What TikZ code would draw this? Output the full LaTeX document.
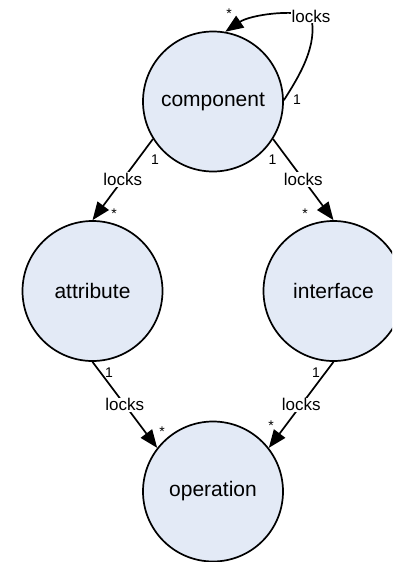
\documentclass[tikz,border=0pt]{standalone}
\usepackage{fontspec}
\setmainfont{Liberation Sans}
\usetikzlibrary{arrows.meta}
\definecolor{classfill}{RGB}{227,234,246}
\begin{document}
\begin{tikzpicture}[x=1pt,y=-1pt,
  cls/.style={circle, draw=black, line width=1.7pt, fill=classfill,
    minimum size=140pt, inner sep=0pt, font=\fontsize{21}{24}\selectfont},
  rel/.style={line width=1.7pt, -{Triangle[length=18pt,width=14pt]}},
  lbl/.style={fill=white, inner sep=1pt, font=\fontsize{17}{20}\selectfont},
  mult/.style={inner sep=0pt, font=\fontsize{14}{16}\selectfont},
  star/.style={mult, anchor=base}]
\clip (0,0) rectangle (392,562);
\fill[white] (0,0) rectangle (392,562);

% classes
\node[cls] (comp) at (213,101.5) {component};
\node[cls] (attr) at (92.5,291) {attribute};
\node[cls] (intf) at (333.5,291) {interface};
\node[cls] (oper) at (213,491.5) {operation};

% self association on component
\coordinate (loopmid) at (311,16);
\draw[rel] (comp.1) .. controls (300,75) and (318,45) .. (loopmid)
  .. controls (292,9) and (250,15) .. (comp.80);
\node[lbl] (l0) at (loopmid) {locks};
\node[mult] (m0a) at (297,100) {1};
\node[star] (m0b) at (229,19) {*};

% component to attribute / interface
\draw[rel] (comp.212) -- node[lbl] (l1) {locks} (attr.90);
\node[mult] (m1a) at (155,160) {1};
\node[star] (m1b) at (114,218) {*};

\draw[rel] (comp.328) -- node[lbl] (l2) {locks} (intf.90);
\node[mult] (m2a) at (272.5,160) {1};
\node[star] (m2b) at (305,218) {*};

% attribute / interface to operation
\draw[rel] (attr.270) -- node[lbl] (l3) {locks} (oper.142);
\node[mult] (m3a) at (109,373) {1};
\node[star] (m3b) at (162,436) {*};

\draw[rel] (intf.270) -- node[lbl] (l4) {locks} (oper.38);
\node[mult] (m4a) at (316,373) {1};
\node[star] (m4b) at (271,430) {*};
\end{tikzpicture}
\end{document}
